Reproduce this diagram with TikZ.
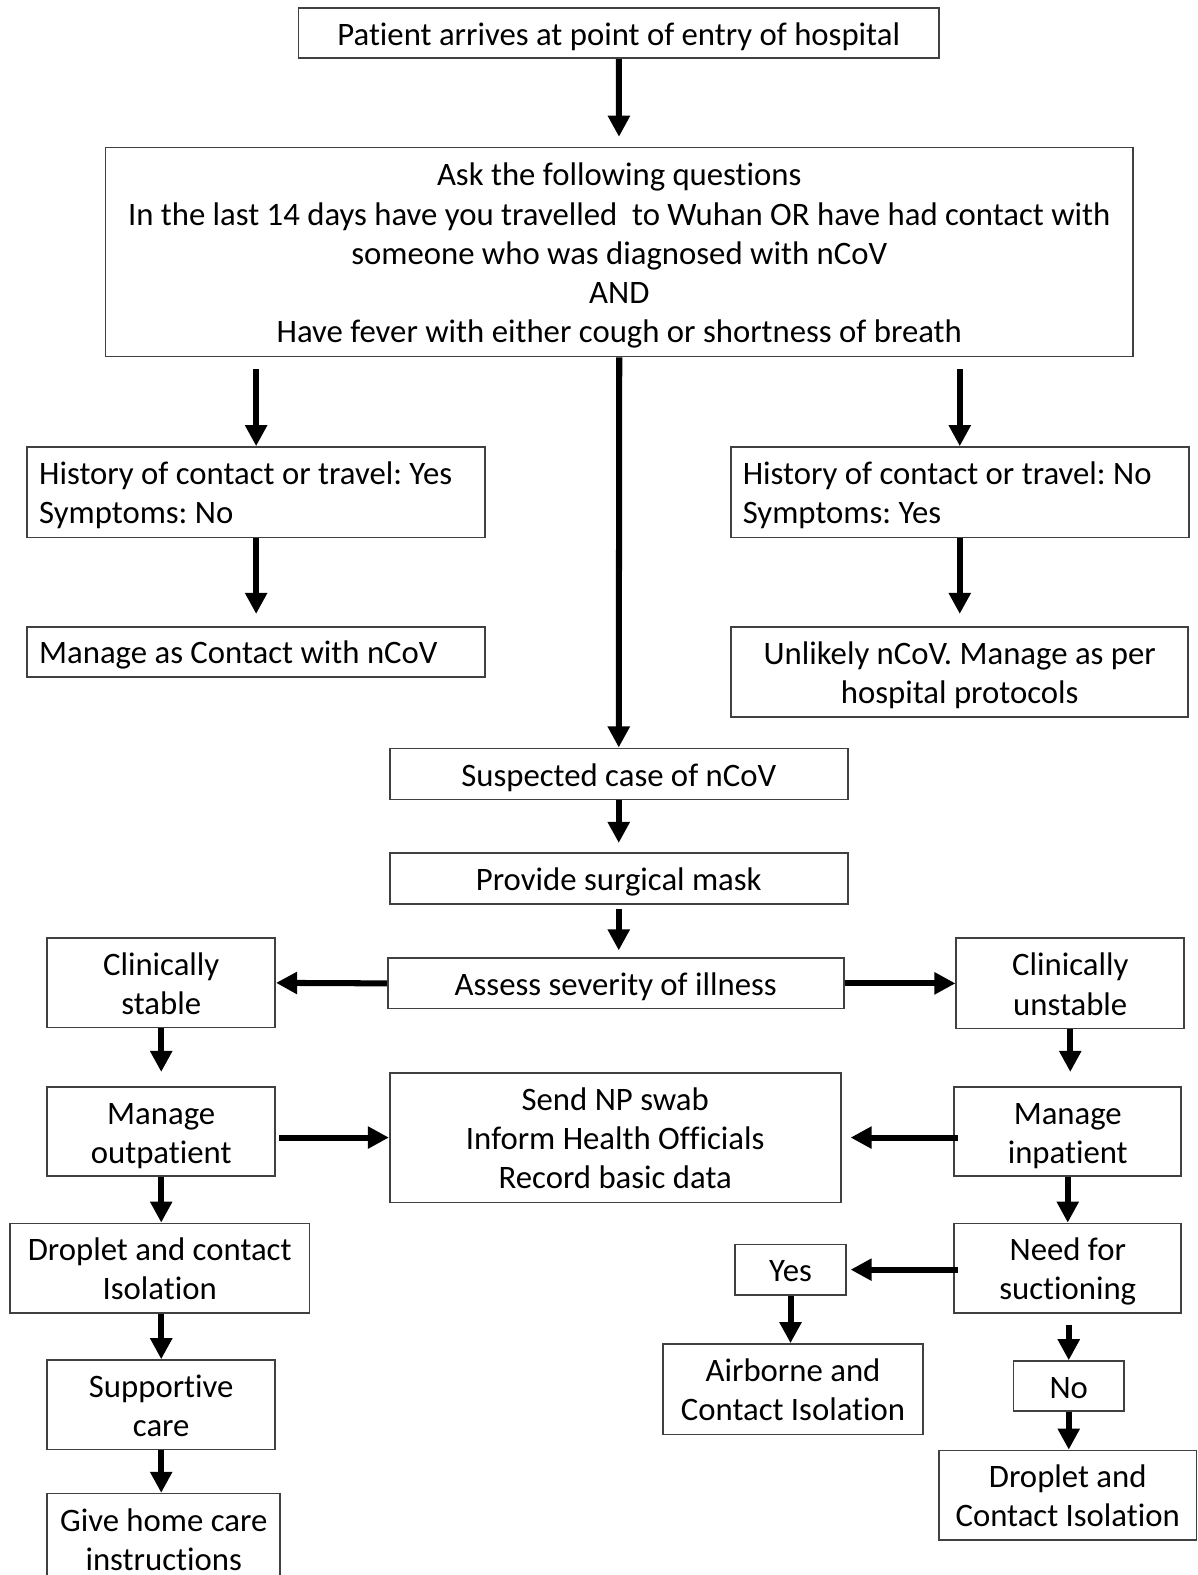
\documentclass[tikz,border=0pt]{standalone}
\usepackage{fontspec}
\setmainfont[Ligatures=NoCommon]{Carlito}
\usetikzlibrary{arrows.meta}
\frenchspacing
\newcommand\boxfont{\fontsize{16.3}{19.5}\selectfont}
\tikzset{
  box/.style={draw=black!75, line width=0.8pt, inner sep=0pt, align=center, font=\boxfont},
  leftbox/.style={box, align=flush left, text width=216pt, inner xsep=6pt,
    execute at begin node={\rule{0pt}{16pt}}, execute at end node={\rule[-4pt]{0pt}{4pt}}},
  one/.style={text height=16pt, text depth=4pt},
  two/.style={text height=35.5pt, text depth=4pt},
  three/.style={text height=55pt, text depth=4pt},
  five/.style={text height=94pt, text depth=4pt},
  flow/.style={line width=3pt, -{Triangle[width=10.5pt,length=10.5pt]}}
}
\begin{document}
\begin{tikzpicture}[x=0.5pt, y=-0.5pt]
  \useasboundingbox (0,0) rectangle (1192,1568);
  % top part
  \node[box, one, minimum width=319pt, minimum height=25pt] (entry) at (616,33)
    {Patient arrives at point of entry of hospital};
  \node[box, five, minimum width=511.5pt, minimum height=104pt] (ask) at (616.5,251)
    {Ask the following questions\\
     In the last 14 days have you travelled~ to Wuhan OR have had contact with\\
     someone who was diagnosed with nCoV\\
     AND\\
     Have fever with either cough or shortness of breath};
  \node[leftbox, minimum height=45pt] (histy) at (255,490)
    {History of contact or travel: Yes\\ Symptoms: No};
  \node[leftbox, minimum height=45pt] (histn) at (955.5,490)
    {History of contact or travel: No\\ Symptoms: Yes};
  \node[leftbox, minimum height=25pt] (contact) at (255,649)
    {Manage as Contact with nCoV};
  \node[box, two, minimum width=227.5pt, minimum height=45pt] (unlikely) at (955.5,669)
    {Unlikely nCoV. Manage as per\\ hospital protocols};
  % middle column
  \node[box, one, minimum width=228pt, minimum height=25.5pt] (susp) at (616,770.5)
    {Suspected case of nCoV};
  \node[box, one, minimum width=228pt, minimum height=25.5pt] (mask) at (616,874.5)
    {Provide surgical mask};
  \node[box, one, minimum width=227pt, minimum height=25pt] (assess) at (613,979)
    {Assess severity of illness};
  \node[box, three, minimum width=224.5pt, minimum height=64.5pt] (send) at (612.5,1132.5)
    {Send NP swab\\ Inform Health Officials\\ Record basic data};
  % left column
  \node[box, two, minimum width=113.5pt, minimum height=44.5pt] (stable) at (160.5,978.5)
    {Clinically\\ stable};
  \node[box, two, minimum width=113.5pt, minimum height=44.5pt] (outp) at (160.5,1126.5)
    {Manage\\ outpatient};
  \node[box, two, minimum width=149pt, minimum height=44.5pt] (drop1) at (159,1262.5)
    {Droplet and contact\\ Isolation};
  \node[box, two, minimum width=113.5pt, minimum height=44.5pt] (support) at (160.5,1398.5)
    {Supportive\\ care};
  \node[box, two, minimum width=116pt, minimum height=45pt] (home) at (163,1532)
    {Give home care\\ instructions};
  % right column
  \node[box, two, minimum width=113.5pt, minimum height=45pt] (unstable) at (1065.5,979)
    {Clinically\\ unstable};
  \node[box, two, minimum width=113pt, minimum height=44.5pt] (inp) at (1063,1126.5)
    {Manage\\ inpatient};
  \node[box, two, minimum width=113pt, minimum height=44.5pt] (need) at (1063,1262.5)
    {Need for\\ suctioning};
  \node[box, one, minimum width=55pt, minimum height=25pt] (yes) at (787,1264) {Yes};
  \node[box, two, minimum width=129.5pt, minimum height=45pt] (airb) at (789.5,1383)
    {Airborne and\\ Contact Isolation};
  \node[box, one, minimum width=55pt, minimum height=25pt] (no) at (1064,1380) {No};
  \node[box, two, minimum width=128pt, minimum height=44.5pt] (drop2) at (1063,1488.5)
    {Droplet and\\ Contact Isolation};
  % arrows
  \draw[flow, shorten >=5pt] (entry) -- (ask);
  \draw[flow, shorten <=6pt] (ask.south -| histy.north) -- (histy.north);
  \draw[flow, shorten <=6pt] (ask.south -| histn.north) -- (histn.north);
  \draw[flow] (ask.south) -- (susp.north);
  \draw[flow, shorten >=6pt] (histy) -- (contact);
  \draw[flow, shorten >=6pt] (histn.south) -- (histn.south |- unlikely.north);
  \draw[flow, shorten >=4.5pt] (susp) -- (mask);
  \draw[flow, shorten <=2pt, shorten >=3.5pt] (mask.south) -- (mask.south |- assess.north);
  \draw[flow] (assess.west) -- (stable.east);
  \draw[flow] (assess.east) -- (unstable.west);
  \draw[flow, shorten >=7pt] (stable) -- (outp);
  \draw[flow, shorten >=7pt] (unstable.south) -- (unstable.south |- inp.north);
  \draw[flow, shorten <=1.5pt] (outp.east |- send.west) -- (send.west);
  \draw[flow, shorten <=-2.5pt, shorten >=4.5pt] (inp.west |- send.east) -- (send.east);
  \draw[flow] (outp.south) -- (outp.south |- drop1.north);
  \draw[flow] (drop1.south -| support.north) -- (support.north);
  \draw[flow] (support.south) -- (support.south |- home.north);
  \draw[flow] (inp) -- (need);
  \draw[flow, shorten <=-2.5pt, shorten >=2pt] (need.west |- yes.east) -- (yes.east);
  \draw[flow] (yes.south) -- (yes.south |- airb.north);
  \draw[flow, shorten <=5.5pt] (need.south -| no.north) -- (no.north);
  \draw[flow] (no.south) -- (no.south |- drop2.north);
\end{tikzpicture}
\end{document}
